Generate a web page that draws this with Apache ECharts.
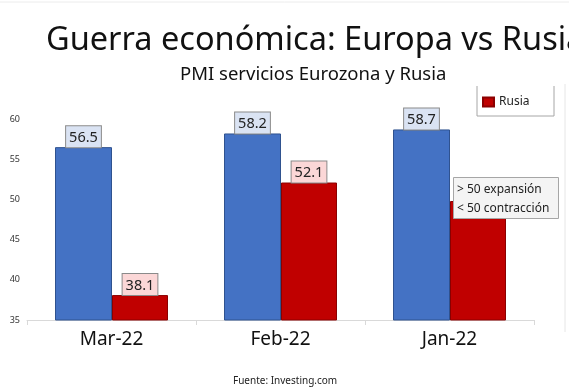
<!DOCTYPE html>
<html><head><meta charset="utf-8">
<script src="https://cdn.jsdelivr.net/npm/echarts@6/dist/echarts.min.js"></script>
<style>html,body{margin:0;padding:0;background:#fff}#c{width:569px;height:392px}</style>
</head><body><div id="c"></div>
<script>
const categories = ['Mar-22', 'Feb-22', 'Jan-22'];
const eurozona = [56.5, 58.2, 58.7];
const rusia = [38.1, 52.1, 49.8];
const titleText = 'Guerra económica: Europa vs Rusia';
const subtitleText = 'PMI servicios Eurozona y Rusia';
const sourceText = 'Fuente: Investing.com';
const noteLines = ['> 50 expansión', '< 50 contracción'];

const FONT = '"Noto Sans", sans-serif';
const chart = echarts.init(document.getElementById('c'), null, {renderer: 'canvas'});
const lbl = (bg) => ({
  show: true, position: 'top', distance: 0,
  formatter: p => p.value.toFixed(1),
  fontFamily: FONT, fontSize: 14.5, color: '#222',
  backgroundColor: bg, borderColor: '#8a8a8a', borderWidth: 1,
  padding: [4, 3, 2, 3]
});
chart.setOption({
  animation: false,
  backgroundColor: '#fff',
  title: [
    {text: titleText, left: 41, top: 19, textStyle: {fontFamily: FONT, fontSize: 32.5, fontWeight: 'normal', color: '#111'}},
    {text: subtitleText, top: 60, left: 175, textStyle: {fontFamily: FONT, fontSize: 18.5, fontWeight: 'normal', color: '#111'}},
    {text: sourceText, left: 228, top: 371, textStyle: {fontFamily: FONT, fontSize: 10, fontWeight: 'normal', color: '#222'}}
  ],
  legend: {
    data: ['Rusia'], left: 477, top: 91, itemWidth: 11, itemHeight: 9, itemGap: 2,
    icon: 'rect', textStyle: {fontFamily: FONT, fontSize: 12, color: '#222'}
  },
  grid: {left: 27, right: 35, top: 119, bottom: 72},
  xAxis: {
    type: 'category', data: categories,
    axisLine: {lineStyle: {color: '#d9d9d9'}},
    axisTick: {show: true, length: 5, lineStyle: {color: '#d9d9d9'}},
    axisLabel: {fontFamily: FONT, fontSize: 19, color: '#111', margin: 10}
  },
  yAxis: {
    type: 'value', min: 35, max: 60, interval: 5,
    axisLine: {show: false}, axisTick: {show: false}, splitLine: {show: false},
    axisLabel: {fontFamily: FONT, fontSize: 9, color: '#333', margin: 7}
  },
  series: [
    {name: 'Eurozona', type: 'bar', data: eurozona, barWidth: 57, barGap: 0,
     itemStyle: {color: '#4472c4', borderColor: '#2f528f', borderWidth: 1},
     label: lbl('#dae3f3')},
    {name: 'Rusia', type: 'bar', data: rusia, barWidth: 56,
     itemStyle: {color: '#c00000', borderColor: '#8b0000', borderWidth: 1},
     label: lbl('#fbd7d7')}
  ],
  graphic: [
    {type: 'polyline', z: 100, shape: {points: [[477, 86], [477, 116], [554, 116], [554, 86]]}, style: {fill: null, stroke: '#a6a6a6', lineWidth: 1}},
    {type: 'line', z: 100, shape: {x1: 565, y1: 84, x2: 565, y2: 332}, style: {stroke: '#e6e6e6', lineWidth: 1}},
    {type: 'line', z: 100, shape: {x1: 0, y1: 2, x2: 569, y2: 2}, style: {stroke: '#ececec', lineWidth: 1}},
    {type: 'rect', z: 100, shape: {x: 453.5, y: 177.5, width: 105, height: 41}, style: {fill: '#f4f4f4', stroke: '#a6a6a6', lineWidth: 1}},
    {type: 'text', z: 101, left: 457, top: 180, style: {text: noteLines.join('\n'), fontFamily: FONT, fontSize: 12, lineHeight: 19, fill: '#222'}}
  ]
});
</script></body></html>
